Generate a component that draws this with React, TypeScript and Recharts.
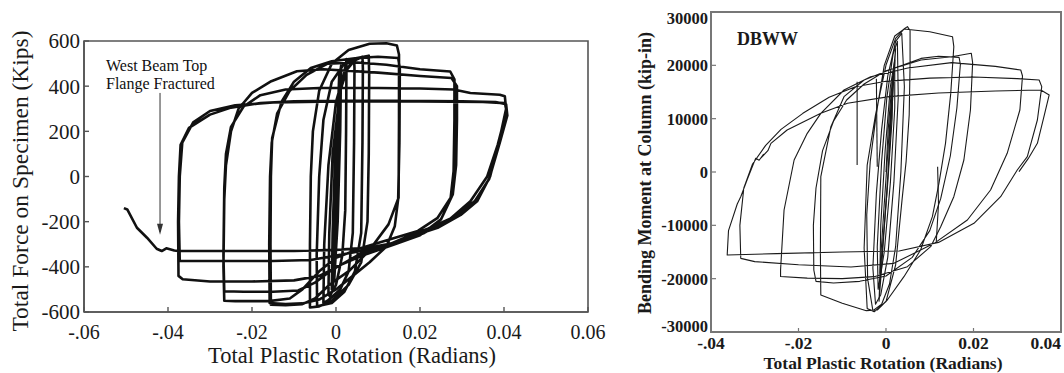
import React from 'react';
import { LineChart, Line, XAxis, YAxis, ReferenceArea, ReferenceLine, ReferenceDot } from 'recharts';

type Pt = [number, number];

// ---------------- Left chart: Total force vs total plastic rotation ----------------
const leftXTicks = [-0.06, -0.04, -0.02, 0, 0.02, 0.04, 0.06];
const leftXLabels = ['-.06', '-.04', '-.02', '0', '0.02', '0.04', '0.06'];
const leftYTicks = [-600, -400, -200, 0, 200, 400, 600];
const leftYLabels = ['-600', '-400', '-200', '0', '200', '400', '600'];

const leftElastic: Pt[] = [[0,0],[0.0004,250],[0.0008,470],[0.0006,250],[0,-100],[-0.0006,-400],[-0.0008,-470],[-0.0005,-250],[0.0002,150],[0.0008,420],[0.0012,490],[0.001,200],[0.0004,-200],[-0.0004,-450],[-0.001,-500]];
const leftCycle2: Pt[] = [[-0.0008,-250],[-0.0002,100],[0.001,380],[0.0024,500],[0.0025,520],[0.0024,200],[0.0022,-150],[0.0015,-350],[0,-480],[-0.0015,-530],[-0.0018,-520]];
const leftCycle4: Pt[] = [[-0.0016,-250],[-0.0008,100],[0.001,380],[0.0028,480],[0.0043,520],[0.0044,480],[0.0043,150],[0.004,-250],[0.003,-420],[0.001,-500],[-0.002,-550],[-0.003,-560]];
const leftCycle6: Pt[] = [[-0.0028,-300],[-0.0018,50],[0,330],[0.002,460],[0.0045,515],[0.0063,530],[0.0064,480],[0.0063,150],[0.006,-250],[0.0045,-420],[0.002,-510],[-0.001,-560],[-0.0045,-575]];
const leftCycle8: Pt[] = [[-0.0046,-350],[-0.004,0],[-0.003,250],[-0.001,420],[0.002,500],[0.005,525],[0.0078,535],[0.0079,450],[0.0078,100],[0.0075,-200],[0.006,-380],[0.003,-480],[-0.001,-550],[-0.004,-575],[-0.0062,-580]];
const leftCycle15a: Pt[] = [[-0.0062,-300],[-0.006,0],[-0.0055,200],[-0.004,380],[-0.001,500],[0.003,560],[0.008,588],[0.012,590],[0.0145,580],[0.015,540],[0.015,250],[0.0149,-94],[0.0125,-212],[0.0078,-330],[0.0032,-417],[-0.0015,-478],[-0.005,-540],[-0.008,-565],[-0.012,-570],[-0.0155,-568]];
const leftCycle15b: Pt[] = [[-0.0156,-300],[-0.0155,0],[-0.0152,170],[-0.013,330],[-0.01,420],[-0.006,480],[-0.001,510],[0.005,525],[0.01,530],[0.0148,525],[0.0152,480],[0.0151,150],[0.0148,-100],[0.014,-220],[0.012,-310],[0.008,-380],[0.004,-440],[0,-500],[-0.004,-545],[-0.008,-562],[-0.012,-565],[-0.0158,-560]];
const leftCycle28a: Pt[] = [[-0.0159,-300],[-0.0157,0],[-0.0153,150],[-0.014,280],[-0.011,380],[-0.007,450],[-0.002,500],[0.005,505],[0.012,495],[0.02,475],[0.0272,465],[0.0282,430],[0.0282,250],[0.028,24],[0.0273,-94],[0.0242,-183],[0.0195,-241],[0.0141,-271],[0.0062,-315],[0,-360],[-0.004,-420],[-0.008,-500],[-0.011,-540],[-0.016,-552],[-0.024,-552],[-0.0266,-550]];
const leftCycle28b: Pt[] = [[-0.0268,-400],[-0.0266,-100],[-0.0262,50],[-0.025,200],[-0.0232,300],[-0.02,370],[-0.0154,422],[-0.0093,466],[-0.003,475],[0.01,460],[0.02,445],[0.0275,436],[0.0288,400],[0.0288,250],[0.0286,50],[0.0278,-80],[0.025,-190],[0.02,-260],[0.014,-300],[0.007,-345],[0,-400],[-0.005,-470],[-0.009,-505],[-0.015,-510],[-0.022,-510],[-0.0266,-508]];
const leftCycle40a: Pt[] = [[-0.0268,-350],[-0.0266,-50],[-0.0262,100],[-0.025,220],[-0.022,310],[-0.018,360],[-0.012,385],[-0.004,392],[0.01,392],[0.02,390],[0.028,385],[0.032,370],[0.039,362],[0.0402,355],[0.0405,300],[0.039,170],[0.0367,0],[0.0336,-110],[0.0297,-170],[0.0242,-227],[0.0195,-256],[0.0125,-300],[0.006,-340],[0,-404],[-0.004,-440],[-0.01,-460],[-0.02,-465],[-0.03,-465],[-0.0365,-455],[-0.0375,-440]];
const leftCycle40b: Pt[] = [[-0.0376,-200],[-0.0374,0],[-0.037,140],[-0.035,215],[-0.03,274],[-0.025,305],[-0.018,325],[-0.01,333],[0,335],[0.015,335],[0.03,333],[0.038,330],[0.0405,320],[0.0408,270],[0.039,150],[0.0365,-10],[0.033,-110],[0.028,-180],[0.022,-230],[0.0165,-270],[0.0115,-310],[0.006,-330],[0,-350],[-0.006,-370],[-0.015,-374],[-0.03,-374],[-0.0372,-374]];
const leftCycle40c: Pt[] = [[-0.0374,-200],[-0.0372,0],[-0.0366,150],[-0.034,240],[-0.03,290],[-0.024,315],[-0.015,328],[0,332],[0.02,332],[0.035,330],[0.0402,325],[0.0406,290],[0.0385,140],[0.036,0],[0.032,-110],[0.027,-190],[0.021,-250],[0.015,-290],[0.008,-315],[0,-325],[-0.01,-330],[-0.025,-330],[-0.035,-330],[-0.0376,-330],[-0.0385,-328],[-0.0404,-318],[-0.0415,-330],[-0.0427,-320],[-0.045,-271],[-0.0474,-227],[-0.0497,-146],[-0.0505,-140]];

const leftArrow: Pt[] = [[-0.0419, 370], [-0.0419, -245]];
const leftArrowTip: Pt = [-0.0419, -258];

// ---------------- Right chart: DBWW bending moment vs rotation ----------------
const rightXTicks = [-0.04, -0.02, 0, 0.02, 0.04];
const rightXLabels = ['-.04', '-.02', '0', '0.02', '0.04'];
const rightYTicks = [-30000, -20000, -10000, 0, 10000, 20000, 30000];
const rightYLabels = ['-30000', '-20000', '-10000', '0', '10000', '20000', '30000'];

const rightElastic: Pt[] = [[0,0],[0.0005,8000],[0.0012,15000],[0.0016,18000],[0.0014,10000],[0.0004,-2000],[-0.0008,-14000],[-0.0014,-19000],[-0.0012,-10000],[-0.0002,4000],[0.001,16000],[0.002,21000],[0.002,12000],[0.001,-2000],[-0.0004,-15000],[-0.0018,-22000],[-0.002,-14000],[-0.001,2000],[0.0002,14000],[0.0016,22000],[0.0026,24500],[0.0028,14000],[0.0018,-2000],[0.0004,-16000],[-0.0012,-23000],[-0.0024,-24800],[-0.003,-18000],[-0.0022,-4000],[-0.001,8000],[0.0004,18000],[0.0022,24500],[0.0036,26000],[0.0042,16000],[0.0034,0],[0.0022,-14000],[0.0008,-21000],[-0.001,-24800],[-0.003,-26000],[-0.0042,-20000],[-0.0044,-8000],[-0.0036,2000],[-0.0022,11000],[-0.0004,20000],[0.002,25500],[0.0041,26800],[0.0049,27250],[0.0055,26500],[0.0055,20000],[0.0053,10700],[0.0046,2000],[0.0037,-4940],[0.0022,-17440],[0,-24300],[-0.0027,-26200],[-0.0043,-25600]];
const rightCore: Pt[] = [[-0.0016,-24300],[-0.0008,-15000],[0.0002,-4000],[0.0010,8000],[0.0018,18000],[0.0022,23200],[0.0016,15000],[0.0008,4000],[-0.0002,-8000],[-0.0010,-18000],[-0.0016,-24300],[-0.0012,-16000],[-0.0004,-6000],[0.0006,6000],[0.0014,16000],[0.0022,23200]];
const rightCycle15: Pt[] = [[-0.005,-14250],[-0.0043,1300],[-0.0024,10700],[0,20060],[0.0022,25060],[0.0041,26800],[0.01,26300],[0.0152,25375],[0.0155,23500],[0.0148,14750],[0.0136,5375],[0.0121,-2125],[0.0106,-8375],[0.0079,-14625],[0.0041,-19625],[0.0003,-24000],[-0.002,-25875],[-0.0045,-26000],[-0.01,-24600],[-0.0149,-23060]];
const rightCycle17: Pt[] = [[-0.015,-15000],[-0.0149,-875],[-0.0126,8500],[-0.0096,14125],[-0.005,17250],[0.0007,19125],[0.008,21300],[0.012,21700],[0.0167,21500],[0.017,20200],[0.0162,12000],[0.0147,3000],[0.0125,-5000],[0.01,-11000],[0.006,-16000],[0,-19500],[-0.006,-20500],[-0.012,-20800],[-0.016,-20500],[-0.0165,-18375]];
const rightCycle20: Pt[] = [[-0.0166,-10000],[-0.016,-3000],[-0.0145,4000],[-0.012,9500],[-0.009,13500],[-0.005,16500],[0,19000],[0.008,21000],[0.015,21600],[0.0195,22250],[0.0198,20500],[0.0193,11625],[0.0178,2250],[0.0155,-4625],[0.0125,-10250],[0.0102,-14000],[0.0049,-17750],[-0.0027,-19625],[-0.01,-20000],[-0.018,-19900],[-0.0241,-19600],[-0.0241,-18375]];
const rightCycle31: Pt[] = [[-0.0233,-7125],[-0.021,2250],[-0.018,7250],[-0.0149,11000],[-0.0096,15375],[-0.0035,17870],[0.005,19500],[0.015,20500],[0.025,19800],[0.0308,19125],[0.0312,18000],[0.0306,11625],[0.0277,3500],[0.0239,-3375],[0.0186,-9000],[0.011,-13375],[0.0018,-17125],[-0.008,-17800],[-0.02,-17400],[-0.03,-16800],[-0.0332,-16190]];
const rightCycle35: Pt[] = [[-0.0334,-10000],[-0.0325,-3000],[-0.0305,1500],[-0.0275,5000],[-0.024,8000],[-0.019,11000],[-0.013,14000],[-0.007,16000],[0,17000],[0.01,17600],[0.02,17800],[0.03,17500],[0.035,17250],[0.0356,16000],[0.0346,9750],[0.0323,2875],[0.03,375],[0.0262,-4625],[0.0201,-9625],[0.012,-13200],[0.003,-14800],[-0.01,-15000],[-0.025,-15300],[-0.0363,-15560]];
const rightCycle37: Pt[] = [[-0.036,-11000],[-0.034,-6000],[-0.0332,-4630],[-0.0317,-1375],[-0.0298,2560],[-0.029,2200],[-0.028,3300],[-0.0285,2700],[-0.027,4000],[-0.0263,5370],[-0.0226,7870],[-0.0149,11000],[-0.0088,12880],[0.0007,14125],[0.012,14800],[0.025,15200],[0.0354,15375],[0.0373,14440],[0.0361,10375],[0.0346,5375],[0.0325,2500],[0.0304,60]];
const rightSpurA: Pt[] = [[-0.0066,16900],[-0.0066,1300]];
const rightSpurB: Pt[] = [[-0.0022,17500],[-0.0020,1000]];
const rightSpurC: Pt[] = [[0.0118,1000],[0.012,-6000],[0.0115,-13000]];

// ---------------- helpers ----------------
const toData = (pts: Pt[]) => pts.map(([x, y]) => ({ x, y }));
const leftPath = toData([
  ...leftElastic, ...leftCycle2, ...leftCycle4, ...leftCycle6, ...leftCycle8,
  ...leftCycle15a, ...leftCycle15b, ...leftCycle28a, ...leftCycle28b,
  ...leftCycle40a, ...leftCycle40b, ...leftCycle40c,
]);
const rightPath = toData([
  ...rightElastic, ...rightCycle15, ...rightCycle17, ...rightCycle20,
  ...rightCycle31, ...rightCycle35, ...rightCycle37,
]);
const rightExtras = [rightCore, rightSpurA, rightSpurB, rightSpurC].map(toData);

const SERIF = '"Liberation Serif", "Times New Roman", serif';

const labelOf = (ticks: number[], labels: string[], v: number) => {
  const i = ticks.findIndex((t) => Math.abs(t - v) < 1e-9);
  return i >= 0 ? labels[i] : String(v);
};

const bottomTick = (ticks: number[], labels: string[], size: number, weight: string, endValue?: number) =>
  (p: any) => {
    const v = p.payload.value;
    const anchor = endValue !== undefined && Math.abs(v - endValue) < 1e-9 ? 'end' : 'middle';
    return (
      <text x={p.x} y={p.y} dy="0.71em" textAnchor={anchor} fontSize={size} fontWeight={weight} fontFamily={SERIF} fill="#1a1a1a">
        {labelOf(ticks, labels, v)}
      </text>
    );
  };

// edge ticks (min / max) can be nudged inward, as the reference's end labels sit slightly inside
const leftTick = (ticks: number[], labels: string[], size: number, weight: string, edgeShift = 0) =>
  (p: any) => {
    const v = p.payload.value;
    const shift = v === ticks[0] ? -edgeShift : v === ticks[ticks.length - 1] ? edgeShift : 0;
    return (
      <text x={p.x} y={p.y + shift} dy="0.355em" textAnchor="end" fontSize={size} fontWeight={weight} fontFamily={SERIF} fill="#1a1a1a">
        {labelOf(ticks, labels, v)}
      </text>
    );
  };

const ArrowHead = (props: any) => {
  const { cx, cy } = props;
  if (cx == null || cy == null) return null;
  return <polygon points={`${cx - 3},${cy - 11} ${cx + 3},${cy - 11} ${cx},${cy}`} fill="#333" />;
};

export default function App() {
  return (
    <div style={{ position: 'relative', width: 1064, height: 373, background: '#fff', overflow: 'hidden' }}>
      <style>{'body{margin:0;background:#fff;}'}</style>

      {/* Left chart */}
      <div style={{ position: 'absolute', left: 0, top: 0 }}>
        <LineChart width={625} height={373} margin={{ top: 41, right: 37, bottom: 31, left: 24 }}>
          <XAxis
            type="number" dataKey="x" domain={[-0.06, 0.06]} ticks={leftXTicks} allowDataOverflow
            height={30} tickSize={-5} tickMargin={18}
            axisLine={{ stroke: '#555', strokeWidth: 1.6 }} tickLine={{ stroke: '#555', strokeWidth: 1.4 }}
            tick={bottomTick(leftXTicks, leftXLabels, 20, 'normal')} interval={0}
          />
          <YAxis
            type="number" dataKey="y" domain={[-600, 600]} ticks={leftYTicks} allowDataOverflow
            width={60} tickSize={-5} tickMargin={9}
            axisLine={{ stroke: '#555', strokeWidth: 1.6 }} tickLine={{ stroke: '#555', strokeWidth: 1.4 }}
            tick={leftTick(leftYTicks, leftYLabels, 21, 'normal')} interval={0}
          />
          <ReferenceArea x1={-0.06} x2={0.06} y1={-600} y2={600} fill="none" fillOpacity={0} stroke="#555" strokeWidth={1.6} />
          <ReferenceLine
            segment={[{ x: leftArrow[0][0], y: leftArrow[0][1] }, { x: leftArrow[1][0], y: leftArrow[1][1] }]}
            stroke="#333" strokeWidth={1}
          />
          <ReferenceDot x={leftArrowTip[0]} y={leftArrowTip[1]} r={3} shape={ArrowHead} />
          <Line
            data={leftPath} dataKey="y" type="linear" stroke="#111" strokeWidth={2.6}
            strokeLinejoin="round" dot={false} activeDot={false} isAnimationActive={false}
          />
        </LineChart>
      </div>

      {/* Left annotations and titles */}
      <div style={{ position: 'absolute', left: 106, top: 57, fontFamily: SERIF, fontSize: 16, lineHeight: '18px', color: '#111', whiteSpace: 'nowrap' }}>
        <div>West Beam Top</div>
        <div>Flange Fractured</div>
      </div>
      <div style={{ position: 'absolute', left: 352, top: 345, transform: 'translateX(-50%)', fontFamily: SERIF, fontSize: 22.5, lineHeight: '22px', color: '#1a1a1a', whiteSpace: 'nowrap' }}>
        Total Plastic Rotation (Radians)
      </div>
      <div style={{ position: 'absolute', left: 20, top: 181, transform: 'translate(-50%, -50%) rotate(-90deg)', fontFamily: SERIF, fontSize: 23.5, lineHeight: '23px', color: '#1a1a1a', whiteSpace: 'nowrap' }}>
        Total Force on Specimen (Kips)
      </div>

      {/* Right chart */}
      <div style={{ position: 'absolute', left: 640, top: 0 }}>
        <LineChart width={424} height={373} margin={{ top: 12, right: 3, bottom: 11, left: 21 }}>
          <XAxis
            type="number" dataKey="x" domain={[-0.04, 0.04]} ticks={rightXTicks} allowDataOverflow
            height={30} tickSize={-4} tickMargin={9}
            axisLine={{ stroke: '#777', strokeWidth: 2 }} tickLine={{ stroke: '#777', strokeWidth: 1.2 }}
            tick={bottomTick(rightXTicks, rightXLabels, 17.5, 'bold', 0.04)} interval={0}
          />
          <YAxis
            type="number" dataKey="y" domain={[-30000, 30000]} ticks={rightYTicks} allowDataOverflow
            width={50} tickSize={-5} tickMargin={8}
            axisLine={{ stroke: '#777', strokeWidth: 2 }} tickLine={{ stroke: '#777', strokeWidth: 1.2 }}
            tick={leftTick(rightYTicks, rightYLabels, 16.5, 'bold', 6)} interval={0}
          />
          <ReferenceArea x1={-0.04} x2={0.04} y1={-30000} y2={30000} fill="none" fillOpacity={0} stroke="#777" strokeWidth={2} />
          <Line
            data={rightPath} dataKey="y" type="linear" stroke="#1a1a1a" strokeWidth={1.1}
            strokeLinejoin="round" dot={false} activeDot={false} isAnimationActive={false}
          />
          {rightExtras.map((d, i) => (
            <Line
              key={i} data={d} dataKey="y" type="linear" stroke="#1a1a1a" strokeWidth={1.1}
              dot={false} activeDot={false} isAnimationActive={false}
            />
          ))}
        </LineChart>
      </div>

      {/* Right annotations and titles */}
      <div style={{ position: 'absolute', left: 737, top: 30, fontFamily: SERIF, fontWeight: 'bold', fontSize: 18, lineHeight: '18px', color: '#1a1a1a' }}>
        DBWW
      </div>
      <div style={{ position: 'absolute', left: 883, top: 355, transform: 'translateX(-50%)', fontFamily: SERIF, fontWeight: 'bold', fontSize: 17.5, lineHeight: '17px', color: '#1a1a1a', whiteSpace: 'nowrap' }}>
        Total Plastic Rotation (Radians)
      </div>
      <div style={{ position: 'absolute', left: 645, top: 173, transform: 'translate(-50%, -50%) rotate(-90deg)', fontFamily: SERIF, fontWeight: 'bold', fontSize: 18, lineHeight: '18px', color: '#1a1a1a', whiteSpace: 'nowrap' }}>
        Bending Moment at Column (kip-in)
      </div>
    </div>
  );
}
